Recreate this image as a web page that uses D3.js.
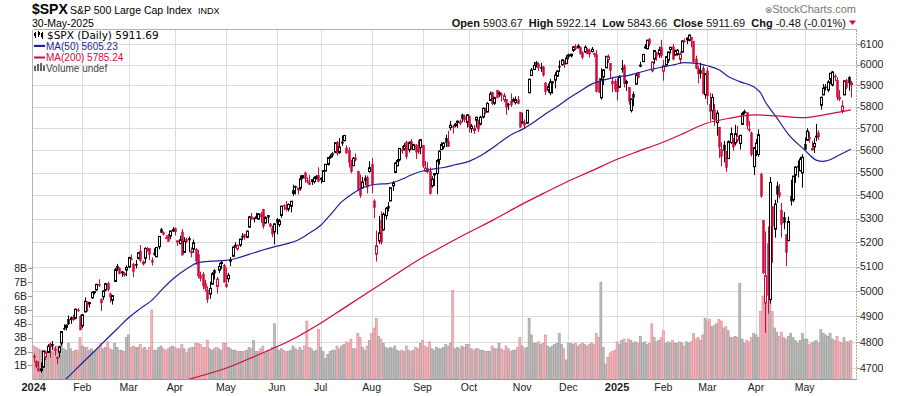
<!DOCTYPE html>
<html>
<head>
<meta charset="utf-8">
<script src="https://cdn.jsdelivr.net/npm/d3@7"></script>
<style>
  body { margin: 0; background: #fff; }
  svg { display: block; font-family: "Liberation Sans", Arial, sans-serif; }
</style>
</head>
<body>
<script>
// market holidays in the window, used to build the trading-day axis
const holidays = ["2024-01-01", "2024-01-15", "2024-02-19", "2024-03-29", "2024-05-27", "2024-06-19",
    "2024-07-04", "2024-09-02", "2024-11-28", "2024-12-25", "2025-01-01", "2025-01-09",
    "2025-01-20", "2025-02-17", "2025-04-18", "2025-05-26"];

// daily OHLC, one line per month (Jan 2024 .. May 2025)
const opens = [
    4745,4725,4697,4690,4703,4741,4759,4792,4791,4772,4739,4760,4796,4853,4856,4888,4887,4888,4892,4925,4899,
    4862,4917,4957,4951,4973,4995,5005,5026,4967,4977,5004,5031,4989,4963,5039,5101,5093,5074,5067,5085,
    5098,5131,5110,5109,5133,5164,5111,5134,5173,5175,5124,5154,5140,5182,5254,5242,5219,5229,5226,5248,
    5258,5204,5194,5244,5158,5212,5217,5160,5172,5171,5149,5064,5068,5031,5005,4988,5028,5084,5019,5085,5114,5104,
    5029,5050,5122,5142,5187,5173,5189,5226,5233,5221,5264,5310,5303,5305,5298,5319,5340,5282,5315,5278,5259,5244,
    5297,5275,5314,5357,5343,5341,5353,5409,5441,5424,5431,5477,5499,5466,5459,5461,5460,5473,5488,
    5471,5461,5507,5537,5572,5585,5591,5635,5590,5638,5644,5610,5600,5543,5531,5566,5505,5428,5433,5476,5479,5505,
    5537,5376,5151,5206,5293,5253,5313,5352,5376,5442,5501,5531,5557,5602,5605,5637,5602,5639,5603,5624,5607,5612,
    5623,5507,5520,5507,5442,5490,5496,5558,5603,5615,5655,5641,5703,5709,5712,5727,5733,5762,5755,5727,
    5757,5698,5690,5737,5737,5719,5752,5779,5775,5829,5866,5816,5875,5860,5857,5832,5834,5812,5826,5833,5819,5832,5775,
    5724,5726,5723,5865,5947,5976,6009,6003,5985,5989,5912,5878,5865,5914,5925,5944,5992,6000,6015,6004,
    6040,6042,6069,6089,6081,6083,6057,6061,6075,6068,6063,6053,6048,5913,5842,5940,5984,6024,6006,5920,5920,
    5903,5891,5982,5993,5910,5890,5782,5859,5906,5962,5995,6014,6081,6076,6121,5970,6026,6058,6050,6082,
    5969,5998,6021,6073,6086,6046,6049,6025,6060,6115,6121,6118,6134,6114,6027,5982,5971,5982,5856,
    5969,5811,5782,5785,5726,5705,5603,5624,5594,5563,5635,5654,5633,5646,5630,5718,5775,5772,5696,5679,5527,
    5597,5581,5492,5292,4953,5194,4966,5353,5255,5441,5412,5335,5305,5232,5207,5395,5381,5489,5529,5508,5499,
    5626,5645,5659,5606,5615,5662,5679,5807,5855,5893,5878,5929,5902,5945,5924,5841,5781,5855,5925,5939,5903.67
];
const highs = [
    4754,4729,4726,4721,4764,4765,4791,4798,4803,4783,4744,4785,4842,4868,4866,4903,4899,4906,4929,4932,4906,
    4906,4975,4957,4957,4999,5000,5030,5048,4971,5002,5033,5038,4994,4983,5094,5111,5097,5081,5077,5104,
    5140,5149,5114,5127,5160,5189,5125,5179,5180,5176,5137,5175,5180,5226,5261,5246,5229,5236,5249,5264,
    5263,5208,5228,5256,5222,5219,5225,5179,5212,5176,5168,5079,5077,5046,5019,5038,5077,5089,5057,5114,5123,5110,
    5096,5074,5139,5181,5200,5191,5215,5239,5234,5250,5311,5325,5305,5325,5324,5329,5342,5311,5315,5282,5270,5281,
    5303,5299,5355,5362,5376,5366,5376,5447,5442,5433,5488,5487,5505,5479,5490,5472,5484,5490,5524,
    5480,5510,5539,5570,5583,5591,5635,5642,5655,5667,5670,5622,5614,5557,5570,5586,5508,5492,5481,5488,5487,5551,
    5566,5383,5250,5312,5331,5327,5350,5372,5436,5464,5546,5561,5608,5620,5632,5643,5641,5651,5629,5627,5646,5651,
    5624,5552,5546,5523,5484,5497,5560,5600,5636,5636,5671,5689,5734,5716,5725,5735,5741,5767,5763,5765,
    5757,5720,5715,5753,5739,5758,5797,5795,5822,5871,5870,5847,5879,5872,5866,5864,5835,5817,5862,5843,5848,5850,5775,
    5772,5741,5784,5933,5983,6012,6017,6010,6008,5993,5916,5909,5932,5921,5963,5973,6020,6026,6020,6045,
    6053,6053,6090,6099,6099,6088,6065,6093,6079,6078,6085,6058,6070,5935,5982,5978,6041,6049,6007,5941,5930,
    5935,5949,6022,6001,5927,5890,5838,5871,5960,5964,6014,6052,6100,6119,6129,6017,6070,6062,6087,6121,
    6022,6042,6062,6084,6101,6073,6076,6063,6117,6127,6129,6147,6134,6115,6043,5993,6009,5994,5959,
    5986,5865,5860,5812,5783,5706,5636,5642,5597,5645,5704,5655,5716,5711,5670,5775,5786,5772,5733,5685,5615,
    5651,5695,5500,5293,5246,5267,5481,5353,5381,5460,5450,5368,5328,5232,5309,5469,5485,5528,5554,5571,5582,
    5658,5700,5683,5641,5654,5720,5691,5847,5907,5906,5925,5959,5969,5954,5939,5878,5829,5922,5931,5944,5922.14
];
const lows = [
    4722,4699,4687,4682,4700,4730,4757,4739,4769,4747,4715,4740,4785,4845,4844,4866,4870,4881,4888,4917,4845,
    4853,4915,4918,4934,4969,4987,5001,5016,4921,4965,4999,4999,4954,4946,5038,5081,5068,5058,5058,5061,
    5094,5127,5057,5092,5129,5117,5104,5114,5161,5126,5104,5145,5138,5171,5240,5229,5216,5203,5213,5245,
    5229,5185,5194,5146,5157,5197,5160,5138,5157,5107,5052,5039,5007,4998,4953,4969,5027,5047,4990,5073,5089,5035,
    5013,5036,5101,5142,5178,5165,5181,5209,5211,5218,5263,5296,5284,5299,5297,5281,5257,5279,5280,5262,5222,5191,
    5234,5265,5304,5336,5331,5331,5327,5398,5404,5404,5421,5471,5456,5452,5446,5446,5452,5471,5460,
    5452,5460,5507,5531,5562,5568,5587,5576,5584,5620,5640,5584,5523,5497,5530,5551,5419,5390,5432,5444,5409,5500,
    5410,5302,5120,5194,5191,5249,5297,5331,5376,5420,5498,5528,5550,5585,5598,5560,5590,5603,5601,5561,5583,5582,
    5521,5504,5497,5403,5434,5441,5406,5536,5602,5604,5614,5615,5690,5675,5704,5702,5714,5728,5727,5703,
    5681,5679,5674,5703,5683,5713,5745,5765,5775,5829,5807,5808,5840,5846,5824,5821,5762,5784,5799,5823,5810,5811,5703,
    5723,5696,5723,5865,5946,5976,5986,5969,5965,5942,5854,5866,5854,5861,5886,5941,5964,5993,5984,6004,
    6026,6034,6061,6069,6079,6048,6025,6056,6051,6034,6059,6036,5867,5866,5833,5902,5983,6008,5932,5869,5869,
    5829,5888,5961,5890,5874,5809,5773,5802,5905,5934,5987,6012,6076,6075,6089,5962,6004,6018,6032,6031,
    5923,5990,6007,6054,6020,6045,6043,6003,6058,6108,6100,6112,6084,6008,5977,5909,5933,5858,5837,
    5810,5732,5742,5711,5666,5565,5528,5546,5504,5563,5629,5597,5622,5635,5603,5715,5764,5694,5683,5572,5489,
    5574,5571,5390,5069,4835,4910,4950,5115,5220,5368,5387,5220,5255,5101,5207,5356,5371,5455,5479,5506,5434,
    5597,5644,5635,5598,5588,5641,5647,5786,5854,5876,5868,5907,5895,5920,5830,5825,5768,5855,5883,5875,5843.66
];
const closes = [
    4743,4705,4689,4697,4764,4757,4783,4780,4784,4766,4739,4781,4840,4850,4865,4869,4894,4891,4928,4925,4846,
    4906,4959,4943,4954,4995,4998,5027,5022,4953,5001,5030,5006,4976,4982,5087,5089,5070,5078,5070,5096,
    5137,5131,5079,5105,5157,5124,5118,5175,5165,5150,5117,5149,5179,5225,5242,5234,5218,5204,5248,5254,
    5244,5206,5211,5147,5204,5202,5210,5161,5199,5123,5062,5051,5022,5011,4967,5011,5071,5072,5048,5100,5116,5036,
    5018,5064,5128,5181,5187.7,5187.67,5214,5223,5221,5247,5308,5297,5303,5308,5321,5307,5268,5305,5306,5267,5235,5278,
    5283,5291,5354,5353,5347,5361,5375,5421,5434,5432,5473,5487,5473,5465,5448,5469,5478,5483,5460,
    5475,5509,5537,5567,5573,5577,5634,5585,5615,5631,5667,5588,5545,5505,5564,5556,5427,5399,5459,5464,5436,5522,
    5447,5347,5186,5240,5200,5319,5344.2,5344.4,5434,5455,5543,5554,5608,5597,5621,5571,5635,5617,5626,5592.2,5592,5648,
    5529,5520,5503,5408,5471,5496,5554,5596,5626,5633,5635,5618,5714,5703,5719,5733,5722,5745,5738,5762,
    5709,5710,5700,5751,5696,5751,5792,5780,5815,5860,5815,5842,5841,5865,5854,5851,5797,5810,5808,5824,5833,5814,5705,
    5729,5713,5783,5929,5973,5996,6001,5984,5985,5949,5871,5894,5916.98,5917.11,5949,5969,5987,6022,5999,6032,
    6047,6050,6086,6075,6090,6053,6035,6084,6051.25,6051.09,6074,6051,5872,5867,5931,5974,6040,6038,5971,5907,5882,
    5869,5942,5975,5909,5918,5827,5836,5843,5950,5937,5997,6049,6086,6119,6101,6012,6068,6039,6071,6041,
    5995,6038,6061,6084,6026,6066,6069,6052,6115.07,6114.63,6130,6144,6118,6013,5983,5955,5956,5862,5955,
    5850,5778,5843,5739,5770,5615,5572,5599,5522,5639,5675,5615,5675,5663,5668,5768,5777,5712,5693,5581,5612,
    5633,5671,5397,5074,5062,4983,5457,5268,5363,5406,5397,5276,5283,5158,5288,5376,5485,5525,5529,5561,5569,
    5604,5687,5650,5607,5631,5664,5660,5844,5887,5893,5917,5958,5964,5940,5845,5842,5803,5922,5889,5912.17,5911.69
];
const prevClose0 = 4769.83; // close of 29-Dec-2023

// volume, billions
const volume = [
    2.4,2.3,2.2,2.1,2.1,2.1,2.0,2.2,2.0,2.3,2.4,2.3,2.8,2.2,2.1,2.6,2.2,2.0,2.1,2.1,3.0,
    2.4,2.3,2.3,2.1,2.2,2.0,2.1,2.3,2.6,2.2,2.3,2.7,2.2,2.1,2.6,2.3,2.1,2.1,2.0,3.0,
    3.2,2.3,2.4,2.3,2.3,2.5,2.2,2.3,2.1,2.3,5.0,2.1,2.1,2.3,2.4,2.2,2.1,2.2,2.3,2.4,
    2.3,2.2,2.2,2.5,2.2,1.9,2.2,2.3,2.3,2.6,2.6,2.5,2.3,2.3,2.8,2.2,2.1,2.2,2.3,2.2,2.1,2.6,
    2.6,2.3,2.2,2.1,2.1,2.0,2.0,2.0,2.0,2.1,2.3,2.2,2.8,2.0,2.0,2.2,2.4,1.9,2.1,2.1,2.3,4.0,
    2.3,2.1,2.2,2.1,2.0,2.0,2.1,2.4,2.2,2.1,2.3,2.1,2.4,4.2,2.3,2.2,2.0,2.1,3.6,
    2.3,2.0,1.5,1.8,2.0,2.1,2.1,2.4,2.2,2.4,2.5,2.7,2.6,2.9,2.2,2.2,3.3,3.0,2.3,2.1,2.4,2.8,
    3.3,3.7,4.4,3.1,2.9,2.6,2.3,2.2,2.3,2.2,2.4,2.1,2.0,2.1,2.0,2.4,2.1,2.0,2.1,2.3,2.2,2.6,
    2.8,2.4,2.3,2.7,2.2,2.1,2.3,2.2,2.2,2.3,2.5,2.4,2.6,6.4,2.2,2.3,2.2,2.4,2.3,2.5,
    2.5,2.2,2.1,2.2,2.2,2.1,2.1,2.0,2.0,2.0,2.4,2.2,2.2,2.6,2.2,2.1,2.4,2.2,2.0,2.1,2.1,2.3,3.0,
    2.4,2.2,2.3,4.4,3.2,2.6,2.6,2.7,2.5,2.6,3.2,2.4,2.3,2.4,2.5,2.6,3.3,2.5,2.2,1.4,
    2.6,2.6,2.5,2.6,2.4,2.5,2.6,2.5,2.4,2.5,2.6,2.5,3.3,3.0,7.0,2.3,1.1,1.6,1.9,2.0,2.1,
    2.7,2.5,2.8,2.9,2.6,2.9,2.8,2.6,2.7,2.6,3.1,2.6,2.7,2.5,2.6,4.0,3.0,2.7,2.8,3.0,
    3.5,2.6,2.7,2.6,2.8,2.6,2.6,2.7,2.6,2.4,2.7,2.6,2.7,3.3,2.9,3.0,2.8,3.2,4.4,
    4.2,4.3,3.8,3.9,4.0,4.3,4.2,3.7,3.8,3.5,3.0,3.0,3.1,3.0,6.9,2.9,2.6,2.8,2.7,3.0,3.3,
    3.2,3.0,4.9,6.0,6.2,5.5,6.3,4.9,3.7,3.4,3.1,3.4,3.0,2.9,3.1,3.3,3.0,2.8,2.6,2.8,3.3,
    2.9,2.9,2.5,2.6,2.7,2.8,2.6,3.6,3.3,3.2,3.1,3.3,2.9,2.8,3.1,2.7,2.6,3.0,2.7,2.7,2.8
];

// moving averages: [trading-day index, value]
const ma50 = [[0,4510],[5,4565],[10,4626],[14,4659],[21,4719],[26,4762],[31,4806],[36,4850],[41,4894],
    [46,4930],[51,4963],[56,5012],[61,5056],[66,5090],[71,5116],[77,5122],[83,5125],[88,5135],[93,5150],
    [99,5168],[105,5184],[110,5196],[114,5209],[119,5238],[124,5272],[128,5315],[133,5372],[138,5410],
    [143,5437],[148,5449],[153,5452],[156,5459],[161,5480],[166,5502],[171,5513],[177,5523],[182,5535],
    [188,5550],[193,5575],[197,5602],[202,5640],[207,5675],[211,5695],[216,5728],[221,5766],[226,5800],
    [231,5838],[236,5872],[241,5906],[246,5925],[252,5941],[257,5948],[260,5957],[266,5975],[272,5989],
    [277,6000],[281,6009],[286,6006],[291,5994],[296,5975],[300,5943],[305,5918],[312,5886],[314,5865],
    [316,5823],[318,5791],[321,5748],[326,5672],[333,5602],[338,5556],[341,5550],[343,5554],[348,5579],[353,5605]];
const ma200 = [[60,4640],[72,4670],[82,4696],[93,4735],[104,4777],[114,4820],[123,4867],[134,4932],
    [145,4998],[156,5065],[167,5132],[177,5185],[187,5237],[199,5297],[210,5357],[220,5408],[230,5458],
    [241,5508],[251,5555],[261,5595],[271,5633],[281,5678],[290,5721],[300,5745],[311,5762],[321,5757],
    [332,5749],[343,5765],[353,5785]];

const priceTicks = [4700,4800,4900,5000,5100,5200,5300,5400,5500,5600,5700,5800,5900,6000,6100];
const volTicks = [1,2,3,4,5,6,7,8];

// build trading days
const days = [];
for (let d = new Date(Date.UTC(2024, 0, 2)); d <= new Date(Date.UTC(2025, 4, 30)); d.setUTCDate(d.getUTCDate() + 1)) {
    const wd = d.getUTCDay();
    if (wd === 0 || wd === 6) continue;
    if (holidays.includes(d.toISOString().slice(0, 10))) continue;
    days.push(new Date(d));
}

const width = 900, height = 396;
const plotL = 32.5, plotR = 856.5, plotT = 29.5, plotB = 379.5;

const svg = d3.select("body").append("svg")
    .attr("width", width)
    .attr("height", height);

const x = d3.scaleLinear().domain([0, days.length - 1]).range([33.7, 850.9]);
const y = d3.scaleLog().domain([4700, 6100]).range([368, 44]);
const yVol = d3.scaleLinear().domain([0, 8]).range([379.3, 268.3]);

const red = "#d20a3c", blue = "#1f1f99";
const isUp = i => closes[i] >= (i ? closes[i - 1] : prevClose0);
const hollow = i => closes[i] > opens[i];

// month starts
const monthIdx = days.map((d, i) => i).filter(i => i === 0 || days[i].getUTCMonth() !== days[i - 1].getUTCMonth());

// grid
const grid = svg.append("g").attr("shape-rendering", "crispEdges");
grid.selectAll(".h").data(priceTicks).join("line")
    .attr("x1", plotL).attr("x2", plotR)
    .attr("y1", d => Math.round(y(d)) + 0.5).attr("y2", d => Math.round(y(d)) + 0.5)
    .attr("stroke", "#dcdcdc");
grid.selectAll(".v").data(monthIdx.slice(1)).join("line")
    .attr("x1", d => Math.round(x(d)) + 0.5).attr("x2", d => Math.round(x(d)) + 0.5)
    .attr("y1", plotT).attr("y2", plotB)
    .attr("stroke", "#dcdcdc");

svg.append("defs").append("clipPath").attr("id", "plot")
    .append("rect").attr("x", plotL).attr("y", plotT).attr("width", plotR - plotL).attr("height", plotB - plotT);

const plot = svg.append("g").attr("clip-path", "url(#plot)");

// volume
plot.append("g").selectAll("rect").data(volume).join("rect")
    .attr("x", (d, i) => x(i) - 1)
    .attr("width", 2)
    .attr("y", d => yVol(d))
    .attr("height", d => yVol(0) - yVol(d))
    .attr("fill", (d, i) => isUp(i) ? "#bdbdbd" : "#f1b6bc")
    .attr("stroke", (d, i) => isUp(i) ? "#9a9a9a" : "#df8a95")
    .attr("stroke-width", 0.6);

// candles
const candles = plot.append("g").selectAll("g").data(closes).join("g");
candles.append("line")
    .attr("x1", (d, i) => Math.round(x(i)) + 0.5)
    .attr("x2", (d, i) => Math.round(x(i)) + 0.5)
    .attr("y1", (d, i) => y(Math.max(highs[i], opens[i], closes[i])))
    .attr("y2", (d, i) => y(Math.min(lows[i], opens[i], closes[i])))
    .attr("stroke", (d, i) => isUp(i) ? "#000" : red)
    .attr("stroke-width", 1);
candles.append("rect")
    .attr("x", (d, i) => Math.round(x(i)) - 0.5)
    .attr("width", 2)
    .attr("y", (d, i) => y(Math.max(opens[i], closes[i])))
    .attr("height", (d, i) => Math.max(1, y(Math.min(opens[i], closes[i])) - y(Math.max(opens[i], closes[i]))))
    .attr("fill", (d, i) => hollow(i) ? "#fff" : (isUp(i) ? "#000" : red))
    .attr("stroke", (d, i) => isUp(i) ? "#000" : red)
    .attr("stroke-width", (d, i) => hollow(i) ? 1 : 0.5);

// moving averages
const maLine = d3.line().x(d => x(d[0])).y(d => y(d[1])).curve(d3.curveMonotoneX);
plot.append("path").datum(ma50).attr("d", maLine)
    .attr("fill", "none").attr("stroke", blue).attr("stroke-width", 1.2);
plot.append("path").datum(ma200).attr("d", maLine)
    .attr("fill", "none").attr("stroke", red).attr("stroke-width", 1.2);

// frame
const frame = svg.append("g").attr("shape-rendering", "crispEdges").attr("stroke", "#b4b4b4");
frame.append("line").attr("x1", plotL).attr("x2", plotR).attr("y1", plotT).attr("y2", plotT);
frame.append("line").attr("x1", plotL).attr("x2", plotL).attr("y1", plotT).attr("y2", plotB);
frame.append("line").attr("x1", plotL).attr("x2", plotR).attr("y1", plotB).attr("y2", plotB).attr("stroke", "#999");
frame.append("line").attr("x1", plotR).attr("x2", plotR).attr("y1", plotT).attr("y2", plotB)
    .attr("stroke", "#aaa").attr("stroke-dasharray", "2,1");

// right price axis
svg.append("g").selectAll("line").data(priceTicks).join("line")
    .attr("shape-rendering", "crispEdges")
    .attr("x1", plotR).attr("x2", plotR + 3)
    .attr("y1", d => Math.round(y(d)) + 0.5).attr("y2", d => Math.round(y(d)) + 0.5)
    .attr("stroke", "#999");
svg.append("g").selectAll("text").data(priceTicks).join("text")
    .attr("x", 860).attr("y", d => y(d)).attr("dy", "0.35em")
    .attr("font-size", 10.5).attr("fill", "#222")
    .text(d => d);

// left volume axis
svg.append("g").selectAll("line").data(volTicks).join("line")
    .attr("shape-rendering", "crispEdges")
    .attr("x1", 28).attr("x2", plotL)
    .attr("y1", d => Math.round(yVol(d)) + 0.5).attr("y2", d => Math.round(yVol(d)) + 0.5)
    .attr("stroke", "#999");
svg.append("g").selectAll("text").data(volTicks).join("text")
    .attr("x", 27).attr("y", d => yVol(d)).attr("dy", "0.35em")
    .attr("text-anchor", "end").attr("font-size", 10.5).attr("fill", "#222")
    .text(d => d + "B");

// time axis
svg.append("g").selectAll("text").data(monthIdx).join("text")
    .attr("x", d => x(d)).attr("y", 391)
    .attr("text-anchor", "middle")
    .attr("font-size", d => days[d].getUTCMonth() === 0 ? 11 : 10.5)
    .attr("font-weight", d => days[d].getUTCMonth() === 0 ? "bold" : "normal")
    .attr("fill", "#222")
    .text(d => days[d].getUTCMonth() === 0 ? days[d].getUTCFullYear() : d3.utcFormat("%b")(days[d]));

// header
svg.append("text").attr("x", 32).attr("y", 14).attr("font-size", 14).attr("font-weight", "bold").text("$SPX");
svg.append("text").attr("x", 70).attr("y", 13.5).attr("font-size", 10.5).text("S&P 500 Large Cap Index");
svg.append("text").attr("x", 198).attr("y", 13.5).attr("font-size", 9).text("INDX");
svg.append("text").attr("x", 32).attr("y", 26.5).attr("font-size", 10.5).text("30-May-2025");

const brand = svg.append("text").attr("x", 856).attr("y", 12.5).attr("text-anchor", "end")
    .attr("font-size", 11).attr("fill", "#777");
brand.append("tspan").attr("font-family", "DejaVu Sans").attr("font-size", 9).text("\u2297");
brand.append("tspan").text("StockCharts.com");

const quote = svg.append("text").attr("x", 846).attr("y", 26.5).attr("text-anchor", "end")
    .attr("font-size", 11).attr("fill", "#111").style("white-space", "pre");
[["Open", " 5903.67  "], ["High", " 5922.14  "], ["Low", " 5843.66  "], ["Close", " 5911.69  "], ["Chg", " -0.48 (-0.01%)"]]
    .forEach(([k, v]) => {
        quote.append("tspan").attr("font-weight", "bold").text(k);
        quote.append("tspan").text(v);
    });
svg.append("path").attr("d", "M849,20.5 L856,20.5 L852.5,25 Z").attr("fill", red);

// legend
const lg = svg.append("g");
const icon = lg.append("g").attr("shape-rendering", "crispEdges");
[[35, 32, 38, 33, 36], [38.5, 31, 37, 32, 35], [42, 31.5, 38.5, 33, 37]].forEach(([cx, hi, lo, b1, b2]) => {
    icon.append("line").attr("x1", cx).attr("x2", cx).attr("y1", hi).attr("y2", lo).attr("stroke", "#000");
    icon.append("rect").attr("x", cx - 1).attr("y", b1).attr("width", 2).attr("height", b2 - b1).attr("fill", "#000");
});
lg.append("text").attr("x", 47).attr("y", 39).attr("font-family", "DejaVu Sans").attr("font-size", 10.5)
    .attr("fill", "#000").text("$SPX (Daily) 5911.69");
lg.append("line").attr("x1", 34).attr("x2", 45).attr("y1", 46).attr("y2", 46).attr("stroke", blue).attr("stroke-width", 2);
lg.append("text").attr("x", 46).attr("y", 49.5).attr("font-size", 10).attr("fill", blue).text("MA(50) 5605.23");
lg.append("line").attr("x1", 34).attr("x2", 45).attr("y1", 57.5).attr("y2", 57.5).attr("stroke", red).attr("stroke-width", 2);
lg.append("text").attr("x", 46).attr("y", 61).attr("font-size", 10).attr("fill", red).text("MA(200) 5785.24");
[[34, 66], [37, 64], [40, 63], [43, 65.5]].forEach(([bx, by]) => {
    lg.append("rect").attr("x", bx).attr("y", by).attr("width", 2).attr("height", 71 - by).attr("fill", "#666");
});
lg.append("text").attr("x", 46).attr("y", 71.5).attr("font-size", 10).attr("fill", "#444").text("Volume undef");
</script>
</body>
</html>
